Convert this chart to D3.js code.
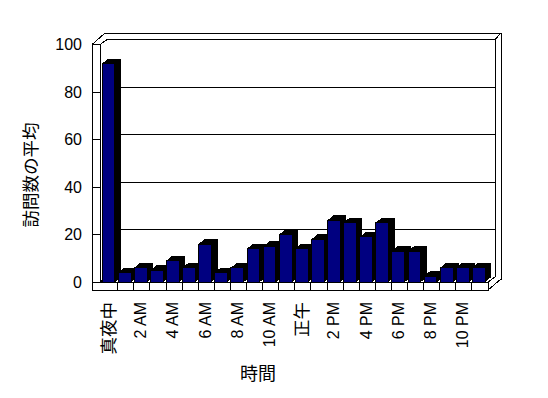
<!DOCTYPE html>
<html>
<head>
<meta charset="utf-8">
<script src="https://cdn.jsdelivr.net/npm/d3@7/dist/d3.min.js"></script>
<style>
  body { margin: 0; background: #fff; }
  svg text { font-family: "Liberation Sans", "Noto Sans CJK JP", sans-serif; fill: #000; }
</style>
</head>
<body>
<div id="chart"></div>
<script>
// hourly categories (every other one gets a label, like the original)
var hours = ["真夜中", "1 AM", "2 AM", "3 AM", "4 AM", "5 AM", "6 AM", "7 AM", "8 AM", "9 AM", "10 AM", "11 AM",
             "正午", "1 PM", "2 PM", "3 PM", "4 PM", "5 PM", "6 PM", "7 PM", "8 PM", "9 PM", "10 PM", "11 PM"];
// average visits per hour
var visits = [92, 4, 6, 5, 9, 6, 16, 4, 6, 14, 15, 20, 14, 18, 26, 25, 19, 25, 13, 13, 2.5, 6, 6, 6];
var yTicks = [0, 20, 40, 60, 80, 100];
var yTitle = "訪問数の平均";
var xTitle = "時間";

var width = 548, height = 398;

var svg = d3.select("#chart").append("svg")
    .attr("width", width)
    .attr("height", height);

// front plane scales
var x = d3.scaleBand()
    .domain(hours)
    .range([101.6, 488])
    .padding(0);

var y = d3.scaleLinear()
    .domain([0, 100])
    .range([282, 44.6]);

// 3d offsets
var barDx = 6, barDy = 5;      // bar depth
var wallDx = 7, wallDy = 5;    // back wall vs front plane
var frontLeft = 100, wallOuter = 92;
var floorBottom = 290;
var backRight = 495, outerRight = 501, outerTop = 33;
var barW = x.bandwidth() * 0.8;

var g = svg.append("g")
    .attr("stroke-linejoin", "miter")
    .attr("shape-rendering", "crispEdges");

// back wall gridlines
g.append("g").selectAll("line")
    .data(yTicks.filter(function (d) { return d > 0 && d < 100; }))
    .enter().append("line")
    .attr("x1", frontLeft + wallDx)
    .attr("x2", backRight)
    .attr("y1", function (d) { return y(d) - wallDy; })
    .attr("y2", function (d) { return y(d) - wallDy; })
    .attr("stroke", "#000");

// wall outline (top and right)
var yTop = y(100);
g.append("path")
    .attr("d", "M" + wallOuter + "," + yTop + "L" + (wallOuter + 13) + "," + outerTop +
        "H" + outerRight + "V" + (y(0) - 2) +
        "M" + frontLeft + "," + yTop + "L" + (frontLeft + wallDx) + "," + (yTop - wallDy) +
        "H" + backRight + "V" + (y(0) - wallDy) +
        "M" + backRight + "," + (yTop - wallDy) + "L" + outerRight + "," + outerTop +
        "M" + wallOuter + "," + yTop + "H" + frontLeft)
    .attr("fill", "none")
    .attr("stroke", "#000");

// left wall front face
g.append("path")
    .attr("d", "M" + wallOuter + "," + yTop + "V" + floorBottom +
        "M" + frontLeft + "," + yTop + "V" + y(0))
    .attr("fill", "none")
    .attr("stroke", "#000");

// y ticks across the wall
g.append("g").selectAll("line")
    .data(yTicks.filter(function (d) { return d > 0; }))
    .enter().append("line")
    .attr("x1", wallOuter)
    .attr("x2", frontLeft + 1)
    .attr("y1", function (d) { return y(d); })
    .attr("y2", function (d) { return y(d); })
    .attr("stroke", "#000");

// floor
var floor = g.append("g");
floor.append("path")
    .attr("d", "M" + frontLeft + "," + y(0) + "L" + (frontLeft + wallDx) + "," + (y(0) - wallDy) +
        "M" + x.range()[1] + "," + y(0) + "L" + backRight + "," + (y(0) - wallDy) +
        "M" + x.range()[1] + "," + floorBottom + "L" + outerRight + "," + (floorBottom - 11) +
        "M" + outerRight + "," + (floorBottom - 11) + "V" + (y(0) - 3))
    .attr("fill", "none")
    .attr("stroke", "#000");
floor.append("rect")
    .attr("x", wallOuter)
    .attr("y", y(0))
    .attr("width", x.range()[1] - wallOuter)
    .attr("height", floorBottom - y(0))
    .attr("fill", "#fff")
    .attr("stroke", "#000");
floor.selectAll("line.div")
    .data(hours.slice(1))
    .enter().append("line")
    .attr("class", "div")
    .attr("x1", function (d) { return x(d); })
    .attr("x2", function (d) { return x(d); })
    .attr("y1", y(0))
    .attr("y2", floorBottom)
    .attr("stroke", "#000");

// bars, drawn left to right so each front hides the previous side
var bars = g.append("g").selectAll("g.bar")
    .data(hours.map(function (h, i) { return {key: h, value: visits[i]}; }))
    .enter().append("g")
    .attr("class", "bar");

bars.append("path")
    .attr("d", function (d) {
        var x0 = x(d.key) + 0.5, x1 = x0 + barW, yt = y(d.value), yb = y(0);
        return "M" + x0 + "," + yt + "L" + (x0 + barDx) + "," + (yt - barDy) +
            "L" + (x1 + barDx) + "," + (yt - barDy) + "L" + (x1 + barDx) + "," + (yb - barDy) +
            "L" + x1 + "," + yb + "Z";
    })
    .attr("fill", "#000");

bars.append("rect")
    .attr("x", function (d) { return x(d.key) + 0.5; })
    .attr("y", function (d) { return y(d.value); })
    .attr("width", barW)
    .attr("height", function (d) { return y(0) - y(d.value); })
    .attr("fill", "#000080")
    .attr("stroke", "#000")
    .attr("stroke-width", 1);

// y tick labels
svg.append("g").selectAll("text")
    .data(yTicks)
    .enter().append("text")
    .attr("x", 82)
    .attr("y", function (d) { return y(d); })
    .attr("text-anchor", "end")
    .attr("dominant-baseline", "central")
    .attr("font-size", 16)
    .text(function (d) { return d; });

// x tick labels, every other hour
svg.append("g").selectAll("text")
    .data(hours.filter(function (d, i) { return i % 2 === 0; }))
    .enter().append("text")
    .attr("transform", function (d) {
        return "translate(" + (x(d) + 0.5 + barW / 2) + ",302) rotate(-90)";
    })
    .attr("text-anchor", "end")
    .attr("dominant-baseline", "central")
    .attr("font-size", function (d) { return /[A-Z]/.test(d) ? 16 : 17.5; })
    .text(function (d) { return d; });

// axis titles
svg.append("text")
    .attr("transform", "translate(31,175) rotate(-90)")
    .attr("text-anchor", "middle")
    .attr("dominant-baseline", "central")
    .attr("font-size", 17.5)
    .text(yTitle);

svg.append("text")
    .attr("x", 258)
    .attr("y", 374)
    .attr("text-anchor", "middle")
    .attr("dominant-baseline", "central")
    .attr("font-size", 18)
    .text(xTitle);
</script>
</body>
</html>
